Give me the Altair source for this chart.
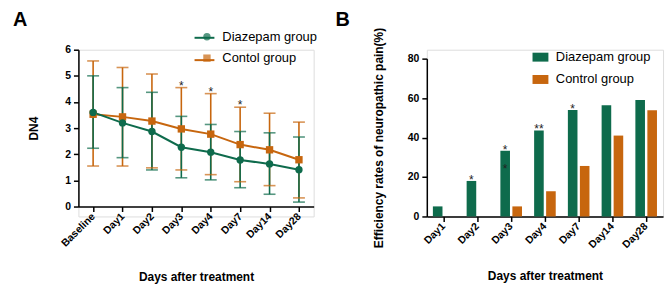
import altair as alt
import pandas as pd

# ---------------- data ----------------
days_a = ["Baseline", "Day1", "Day2", "Day3", "Day4", "Day7", "Day14", "Day28"]
diaz_mean = [3.60, 3.20, 2.87, 2.27, 2.08, 1.78, 1.63, 1.41]
diaz_upper = [5.00, 4.55, 4.37, 3.45, 3.14, 2.87, 2.82, 2.66]
diaz_lower = [2.23, 1.87, 1.40, 1.10, 1.02, 0.72, 0.47, 0.17]
ctrl_mean = [3.53, 3.43, 3.27, 2.97, 2.77, 2.37, 2.17, 1.79]
ctrl_upper = [5.57, 5.32, 5.07, 4.55, 4.32, 3.80, 3.57, 3.23]
ctrl_lower = [1.55, 1.55, 1.48, 1.40, 1.22, 0.95, 0.80, 0.33]
stars_a = ["", "", "", "*", "*", "*", "", ""]

days_b = ["Day1", "Day2", "Day3", "Day4", "Day7", "Day14", "Day28"]
diaz_rate = [5.1, 18.0, 33.3, 43.6, 54.0, 56.4, 59.0]
ctrl_rate = [0.0, 0.0, 5.1, 12.8, 25.6, 41.0, 53.8]
stars_b_day = ["Day2", "Day3", "Day3", "Day4", "Day7"]
stars_b_val = [18.0, 33.3, 23.5, 43.6, 54.0]
stars_b_txt = ["*", "*", "*", "**", "*"]

groups_a = ["Diazepam group", "Contol group"]
groups_b = ["Diazepam group", "Control group"]
GREEN = "#0e6b4c"
ORANGE = "#c7660e"
FONT = "Liberation Sans"

# ---------------- panel A ----------------
rows = []
for g, m, u, l in [(groups_a[1], ctrl_mean, ctrl_upper, ctrl_lower),
                   (groups_a[0], diaz_mean, diaz_upper, diaz_lower)]:
    for d, mm, uu, ll in zip(days_a, m, u, l):
        rows.append({"day": d, "group": g, "group2": g, "mean": mm, "upper": uu, "lower": ll})
df_a = pd.DataFrame(rows)
df_star_a = pd.DataFrame({"day": days_a, "upper": ctrl_upper, "star": stars_a})
df_star_a = df_star_a[df_star_a["star"] != ""]

axis_common = dict(labelFontSize=10.5, labelFontWeight="bold", titleFontSize=12,
                   titleFontWeight="bold", tickSize=5, tickWidth=1.5, domainWidth=1.5,
                   domainColor="black", tickColor="black", labelColor="black",
                   titleColor="black", labelPadding=3, grid=False, labelOverlap=False)

xa = alt.X("day:N", sort=days_a, scale=alt.Scale(type="point", padding=0.5),
           axis=alt.Axis(title="Days after treatment", labelAngle=-45, labelAlign="right",
                         labelBaseline="middle", titlePadding=23, offset=-10, **axis_common))
ya_axis = alt.Axis(title="DN4", values=[0, 1, 2, 3, 4, 5, 6], titlePadding=24,
                   **axis_common)
ya_scale = alt.Scale(domain=[0, 6], range=[158, 0])


def ya(field):
    return alt.Y(field, scale=ya_scale, axis=ya_axis)


color_scale_a = alt.Scale(domain=groups_a, range=[GREEN, ORANGE])
leg_a = dict(title=None, orient="none", legendX=123, legendY=-19.5, labelFontSize=13,
             labelFont=FONT, symbolSize=55, labelOffset=9, rowPadding=7.5,
             labelColor="black", symbolStrokeWidth=0, symbolOpacity=1)

base_a = alt.Chart(df_a)
rules_a = base_a.mark_rule(strokeWidth=1.6).encode(
    x=xa, y=ya("lower:Q"), y2="upper:Q", color=alt.Color("group:N", scale=color_scale_a))
caps_up = base_a.mark_tick(size=12, thickness=1.6).encode(
    x=xa, y=ya("upper:Q"), color=alt.Color("group:N", scale=color_scale_a))
caps_lo = base_a.mark_tick(size=12, thickness=1.6).encode(
    x=xa, y=ya("lower:Q"), color=alt.Color("group:N", scale=color_scale_a))
line_a = base_a.mark_line(strokeWidth=2).encode(
    x=xa, y=ya("mean:Q"), detail="group2:N",
    stroke=alt.Stroke("group2:N", scale=alt.Scale(domain=groups_a, range=[GREEN, ORANGE]),
                      legend=alt.Legend(title=None, orient="none", legendX=116, legendY=-23,
                                        symbolType="stroke", symbolSize=400,
                                        symbolStrokeWidth=2, labelFontSize=13,
                                        labelFont=FONT, labelOffset=2, rowPadding=4.5,
                                        labelExpr="''")))
pts_a = base_a.mark_point(filled=True, opacity=1, size=55).encode(
    x=xa, y=ya("mean:Q"),
    color=alt.Color("group:N", scale=color_scale_a, legend=alt.Legend(**leg_a)),
    shape=alt.Shape("group:N", scale=alt.Scale(domain=groups_a, range=["circle", "square"]),
                    legend=alt.Legend(**leg_a)))
star_a = alt.Chart(df_star_a).mark_text(fontSize=12, font=FONT, baseline="alphabetic", dy=2,
                                        color="#222").encode(
    x=xa, y=ya("upper:Q"), text="star:N")
lab_a = alt.Chart(pd.DataFrame({"t": ["A"]})).mark_text(
    fontSize=20, fontWeight="bold", font=FONT, align="left", baseline="alphabetic",
    color="black").encode(text="t:N", x=alt.value(-66), y=alt.value(-24))

panel_a = alt.layer(rules_a, caps_up, caps_lo, line_a, pts_a, star_a, lab_a).properties(
    width=237, height=168)

# ---------------- panel B ----------------
rows_b = []
for d, v in zip(days_b, diaz_rate):
    rows_b.append({"day": d, "group": groups_b[0], "rate": v})
for d, v in zip(days_b, ctrl_rate):
    rows_b.append({"day": d, "group": groups_b[1], "rate": v})
df_b = pd.DataFrame(rows_b)
df_star_b = pd.DataFrame({"day": stars_b_day, "rate": stars_b_val, "star": stars_b_txt,
                          "group": [groups_b[0]] * len(stars_b_day)})

xb = alt.X("day:N", sort=days_b, scale=alt.Scale(paddingInner=0.36, paddingOuter=0.18),
           axis=alt.Axis(title="Days after treatment", labelAngle=-45, labelAlign="right",
                         labelBaseline="middle", titlePadding=21, tickBand="center",
                         **axis_common))
yb_axis = alt.Axis(title="Efficiency rates of neuropathic pain(%)",
                   values=[0, 20, 40, 60, 80], titlePadding=22, **axis_common)
yb_scale = alt.Scale(domain=[0, 80], range=[168, 9])
xoff = alt.XOffset("group:N", sort=groups_b, scale=alt.Scale(paddingInner=0.2))

bars_b = alt.Chart(df_b).mark_bar().encode(
    x=xb, xOffset=xoff, y=alt.Y("rate:Q", scale=yb_scale, axis=yb_axis),
    color=alt.Color("group:N", scale=alt.Scale(domain=groups_b, range=[GREEN, ORANGE]),
                    legend=alt.Legend(title=None, orient="none", legendX=108, legendY=1,
                                      labelFontSize=13, labelFont=FONT, symbolSize=100,
                                      symbolType="M-1.6,-0.9H1.6V0.9H-1.6Z",
                                      labelOffset=9, rowPadding=8.5, labelColor="black",
                                      symbolStrokeWidth=0)))
star_b = alt.Chart(df_star_b).mark_text(fontSize=12, font=FONT, baseline="alphabetic", dy=3,
                                        color="#222").encode(
    x=xb, xOffset=xoff, y=alt.Y("rate:Q", scale=yb_scale, axis=yb_axis), text="star:N")
lab_b = alt.Chart(pd.DataFrame({"t": ["B"]})).mark_text(
    fontSize=20, fontWeight="bold", font=FONT, align="left", baseline="alphabetic",
    color="black").encode(text="t:N", x=alt.value(-92), y=alt.value(-24))

panel_b = alt.layer(bars_b, star_b, lab_b).properties(width=238, height=168)

chart = alt.hconcat(panel_a, panel_b, spacing=16).resolve_scale(
    x="independent", y="independent", color="independent", shape="independent",
    xOffset="independent").properties(
    padding={"left": 12, "top": 8, "right": 5, "bottom": 5}).configure_view(
    stroke=None).configure(font=FONT).configure_axis(labelFont=FONT, titleFont=FONT, grid=False)

chart.save("out.html", embed_options={"renderer": "svg", "actions": False})
